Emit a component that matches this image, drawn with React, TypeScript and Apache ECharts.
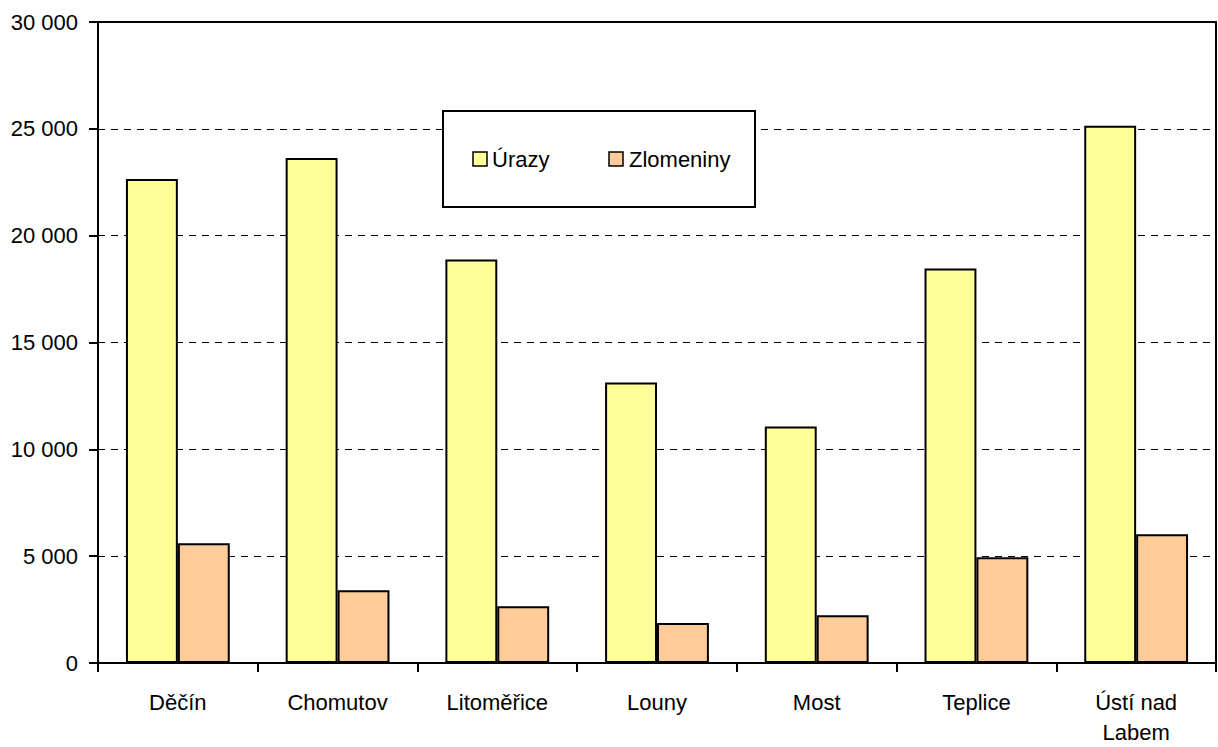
import React, { useEffect, useRef } from "react";
import * as echarts from "echarts";

const categories = ["Děčín", "Chomutov", "Litoměřice", "Louny", "Most", "Teplice", "Ústí nad\nLabem"];
const urazy = [22650, 23640, 18880, 13130, 11070, 18460, 25140];
const zlomeniny = [5600, 3410, 2660, 1870, 2240, 4950, 6030];
const seriesNames = ["Úrazy", "Zlomeniny"];

const FONT = "'Liberation Sans Narrow', 'Arial Narrow', 'Liberation Sans', Arial, sans-serif";

export default function App() {
  const ref = useRef<HTMLDivElement>(null);
  useEffect(() => {
    if (!ref.current) return;
    const chart = echarts.init(ref.current, undefined, { renderer: "svg" });
    chart.setOption({
      animation: false,
      backgroundColor: "#ffffff",
      textStyle: { fontFamily: FONT },
      grid: {
        left: 98,
        right: 2,
        top: 22,
        bottom: 84,
        show: true,
        borderColor: "#000000",
        borderWidth: 2,
        backgroundColor: "transparent",
        outerBoundsMode: "none",
        containLabel: false,
      },
      legend: { show: false },
      graphic: [
        {
          type: "rect",
          shape: { x: 443, y: 111, width: 312, height: 96 },
          style: { fill: "#ffffff", stroke: "#000000", lineWidth: 2 },
          z: 100,
        },
        {
          type: "rect",
          shape: { x: 473, y: 152, width: 14, height: 14 },
          style: { fill: "#FFFF99", stroke: "#000000", lineWidth: 1.5 },
          z: 101,
        },
        {
          type: "text",
          x: 492,
          y: 159,
          style: { text: seriesNames[0], font: `22px ${FONT}`, fill: "#000", verticalAlign: "middle" },
          z: 101,
        },
        {
          type: "rect",
          shape: { x: 609, y: 152, width: 14, height: 14 },
          style: { fill: "#FFCC99", stroke: "#000000", lineWidth: 1.5 },
          z: 101,
        },
        {
          type: "text",
          x: 629,
          y: 159,
          style: { text: seriesNames[1], font: `22px ${FONT}`, fill: "#000", verticalAlign: "middle" },
          z: 101,
        },
      ],
      xAxis: {
        type: "category",
        data: categories,
        axisLine: { show: true, lineStyle: { color: "#000", width: 2 } },
        axisTick: { show: true, alignWithLabel: false, length: 9, lineStyle: { color: "#000", width: 2 } },
        axisLabel: {
          color: "#000",
          fontSize: 22,
          fontFamily: FONT,
          margin: 24,
          lineHeight: 30,
          interval: 0,
        },
        splitLine: { show: false },
      },
      yAxis: {
        type: "value",
        min: 0,
        max: 30000,
        interval: 5000,
        axisLine: { show: true, lineStyle: { color: "#000", width: 2 } },
        axisTick: { show: true, length: 9, lineStyle: { color: "#000", width: 2 } },
        axisLabel: {
          color: "#000",
          fontSize: 22,
          fontFamily: FONT,
          margin: 20,
          formatter: (v: number) => (v >= 1000 ? `${Math.floor(v / 1000)} ${String(v % 1000).padStart(3, "0")}` : `${v}`),
        },
        splitLine: { show: true, lineStyle: { color: "#000", width: 1, type: [7, 6] } },
      },
      series: [
        {
          name: seriesNames[0],
          type: "bar",
          data: urazy,
          barGap: "0%",
          barCategoryGap: "35%",
          itemStyle: { color: "#FFFF99", borderColor: "#000", borderWidth: 2 },
        },
        {
          name: seriesNames[1],
          type: "bar",
          data: zlomeniny,
          itemStyle: { color: "#FFCC99", borderColor: "#000", borderWidth: 2 },
        },
      ],
    });
    return () => chart.dispose();
  }, []);
  return (
    <div
      ref={ref}
      style={{ position: "fixed", left: 0, top: 0, width: 1218, height: 747 }}
    />
  );
}
